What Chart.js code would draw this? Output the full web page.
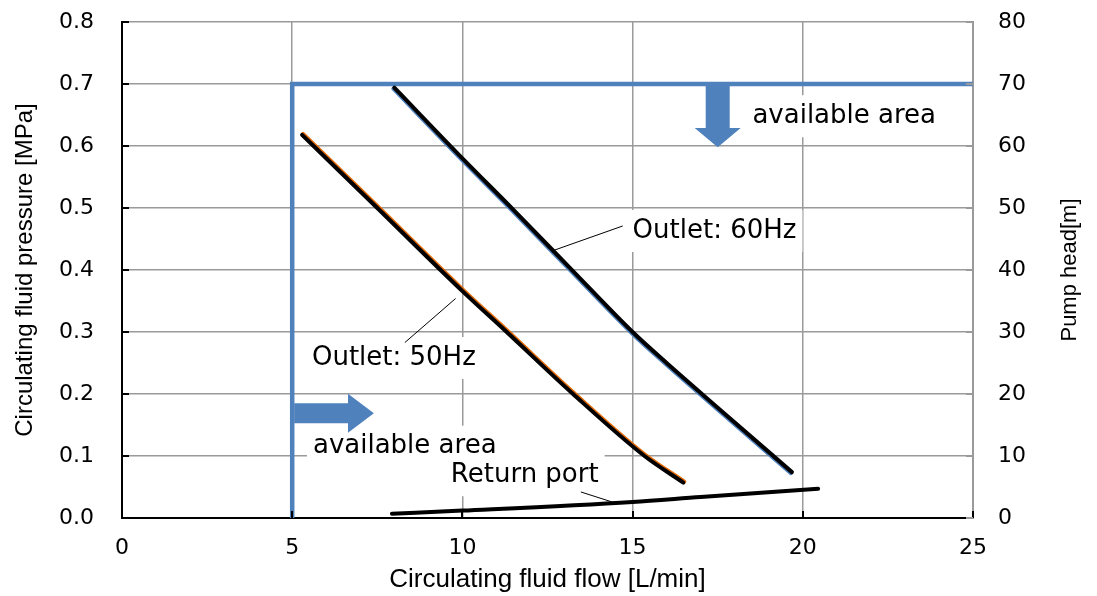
<!DOCTYPE html>
<html>
<head>
<meta charset="utf-8">
<script src="https://cdn.jsdelivr.net/npm/chart.js@4.4.1/dist/chart.umd.min.js"></script>
<style>
html,body{margin:0;padding:0;background:#fff;}
#wrap{width:1097px;height:596px;}
</style>
</head>
<body>
<div id="wrap"><canvas id="c" width="1097" height="596"></canvas></div>
<script>
// ---- data ----
const flow60 = [8.0, 10.0, 11.5, 13.2, 15.0, 16.0, 17.5, 19.68];
const pres60 = [0.694, 0.580, 0.497, 0.401, 0.300, 0.250, 0.178, 0.074];

const flow50 = [5.29, 7.5, 10.0, 11.3, 13.25, 15.35, 16.49];
const pres50 = [0.618, 0.500, 0.366, 0.300, 0.200, 0.100, 0.057];

const flowReturn = [7.93, 10.0, 15.0, 17.0, 20.45];
const presReturn = [0.007, 0.012, 0.026, 0.034, 0.047];

const boundaryFlow = [5, 5, 25];
const boundaryPres = [0, 0.7, 0.7];

const flowTicks = [0, 5, 10, 15, 20, 25];
const pressureTickValues = [0, 0.1, 0.2, 0.3, 0.4, 0.5, 0.6, 0.7, 0.8];
const pressureTickLabels = ['0.0','0.1','0.2','0.3','0.4','0.5','0.6','0.7','0.8'];
const headTickValues = [0, 10, 20, 30, 40, 50, 60, 70, 80];
const headTickLabels = ['0','10','20','30','40','50','60','70','80'];

const xTitle = 'Circulating fluid flow [L/min]';
const yTitle = 'Circulating fluid pressure [MPa]';
const y1Title = 'Pump head[m]';

// annotation texts (positions in data units)
const labels = [
  {text: 'available area', x: 18.52, y: 0.648},
  {text: 'available area', x: 5.61, y: 0.115},
  {text: 'Outlet: 60Hz', x: 15.0, y: 0.463},
  {text: 'Outlet: 50Hz', x: 5.58, y: 0.258},
  {text: 'Return port', x: 9.66, y: 0.069}
];
const leaders = [
  [14.71, 0.471, 12.70, 0.432],
  [8.31, 0.283, 9.80, 0.354],
  [13.48, 0.042, 14.39, 0.026]
];

const pts = (xs, ys) => xs.map((v, i) => ({x: v, y: ys[i]}));
const BLUE = '#4F81BD';
const GRID = '#9a9a9a';
const TXT_FONT = '26px "DejaVu Sans"';

const shadowPlugin = {
  id: 'shadow',
  beforeDatasetDraw(chart, args) {
    const ds = chart.data.datasets[args.index];
    if (ds.shadowColor) {
      const ctx = chart.ctx;
      ctx.save();
      ctx.shadowColor = ds.shadowColor;
      ctx.shadowOffsetX = ds.shadowX;
      ctx.shadowOffsetY = ds.shadowY;
      ctx.shadowBlur = 0;
    }
  },
  afterDatasetDraw(chart, args) {
    const ds = chart.data.datasets[args.index];
    if (ds.shadowColor) chart.ctx.restore();
  }
};

const annotPlugin = {
  id: 'annot',
  beforeDatasetsDraw(chart) {
    const {ctx, scales: {x, y}} = chart;
    ctx.save();
    ctx.font = TXT_FONT;
    ctx.fillStyle = '#fff';
    labels.forEach(l => {
      const w = ctx.measureText(l.text).width;
      const px = x.getPixelForValue(l.x), py = y.getPixelForValue(l.y);
      ctx.fillRect(px - 6, py - 21, w + 12, 42);
    });
    ctx.restore();
  },
  afterDatasetsDraw(chart) {
    const {ctx, scales: {x, y, y1}, chartArea: ca} = chart;
    ctx.save();
    // inward tick marks
    ctx.lineWidth = 2;
    ctx.strokeStyle = '#000';
    pressureTickValues.forEach(v => {
      const py = Math.round(y.getPixelForValue(v));
      ctx.beginPath(); ctx.moveTo(ca.left, py); ctx.lineTo(ca.left + 7, py); ctx.stroke();
    });
    flowTicks.forEach(v => {
      const px = Math.round(x.getPixelForValue(v));
      ctx.beginPath(); ctx.moveTo(px, ca.bottom); ctx.lineTo(px, ca.bottom - 7); ctx.stroke();
    });
    ctx.strokeStyle = GRID;
    headTickValues.forEach(v => {
      const py = Math.round(y1.getPixelForValue(v));
      ctx.beginPath(); ctx.moveTo(ca.right, py); ctx.lineTo(ca.right - 7, py); ctx.stroke();
    });

    // arrows
    ctx.fillStyle = BLUE;
    {
      const cx = x.getPixelForValue(17.5);
      const top = y.getPixelForValue(0.7) + 2;
      const hs = y.getPixelForValue(0.629);
      const tip = y.getPixelForValue(0.598);
      ctx.beginPath();
      ctx.moveTo(cx - 12, top); ctx.lineTo(cx + 12, top); ctx.lineTo(cx + 12, hs);
      ctx.lineTo(cx + 23, hs); ctx.lineTo(cx, tip); ctx.lineTo(cx - 23, hs);
      ctx.lineTo(cx - 12, hs); ctx.closePath(); ctx.fill();
    }
    {
      const cy = y.getPixelForValue(0.169);
      const st = x.getPixelForValue(5.0) + 2;
      const hs = x.getPixelForValue(6.64);
      const tip = x.getPixelForValue(7.40);
      ctx.beginPath();
      ctx.moveTo(st, cy - 10); ctx.lineTo(hs, cy - 10); ctx.lineTo(hs, cy - 19.5);
      ctx.lineTo(tip, cy); ctx.lineTo(hs, cy + 19.5); ctx.lineTo(hs, cy + 10);
      ctx.lineTo(st, cy + 10); ctx.closePath(); ctx.fill();
    }

    // leader lines
    ctx.strokeStyle = '#000';
    ctx.lineWidth = 1;
    leaders.forEach(l => {
      ctx.beginPath();
      ctx.moveTo(x.getPixelForValue(l[0]), y.getPixelForValue(l[1]));
      ctx.lineTo(x.getPixelForValue(l[2]), y.getPixelForValue(l[3]));
      ctx.stroke();
    });

    // labels
    ctx.fillStyle = '#000';
    ctx.font = TXT_FONT;
    ctx.textAlign = 'left';
    ctx.textBaseline = 'middle';
    labels.forEach(l => {
      ctx.fillText(l.text, x.getPixelForValue(l.x), y.getPixelForValue(l.y));
    });

    // right axis title (reads bottom-to-top)
    ctx.font = '22px "Liberation Sans", Arial, sans-serif';
    ctx.textAlign = 'center';
    ctx.translate(1070, (ca.top + ca.bottom) / 2);
    ctx.rotate(-Math.PI / 2);
    ctx.fillText(y1Title, 0, 0);
    ctx.restore();
  }
};

new Chart(document.getElementById('c'), {
  type: 'scatter',
  data: {
    datasets: [
      {
        label: 'Outlet: 60Hz', data: pts(flow60, pres60), showLine: true,
        borderColor: '#000', borderWidth: 4, pointRadius: 0,
        cubicInterpolationMode: 'monotone', order: 1,
        borderCapStyle: 'round',
        shadowColor: BLUE, shadowX: -1, shadowY: 1
      },
      {
        label: 'Outlet: 50Hz', data: pts(flow50, pres50), showLine: true,
        borderColor: '#000', borderWidth: 4, pointRadius: 0,
        cubicInterpolationMode: 'monotone', order: 2,
        borderCapStyle: 'round',
        shadowColor: '#E46C0A', shadowX: 1, shadowY: -1
      },
      {
        label: 'Return port', data: pts(flowReturn, presReturn), showLine: true,
        borderColor: '#000', borderWidth: 4, pointRadius: 0,
        cubicInterpolationMode: 'monotone', order: 3,
        borderCapStyle: 'round'
      },
      {
        label: 'available area', data: pts(boundaryFlow, boundaryPres), showLine: true,
        borderColor: BLUE, borderWidth: 4.5, pointRadius: 0, tension: 0,
        borderJoinStyle: 'miter', order: 10
      }
    ]
  },
  options: {
    responsive: false,
    animation: false,
    devicePixelRatio: 1,
    layout: {padding: {top: 22, left: 0, right: 0, bottom: 0}},
    plugins: {legend: {display: false}, tooltip: {enabled: false}},
    scales: {
      x: {
        type: 'linear', position: 'bottom', min: 0, max: 25,
        afterBuildTicks: s => { s.ticks = flowTicks.map(v => ({value: v})); },
        afterFit: s => { s.height = 78; s.paddingLeft = 0; s.paddingRight = 0; },
        grid: {color: GRID, lineWidth: 1.5, drawTicks: false},
        border: {color: '#000', width: 2},
        ticks: {
          padding: 17, color: '#000', maxRotation: 0,
          font: {family: '"DejaVu Sans"', size: 22},
          callback: v => String(v)
        },
        title: {
          display: true, text: xTitle, color: '#000',
          font: {family: '"Liberation Sans", Arial, sans-serif', size: 26},
          padding: {top: 0, bottom: 1}
        }
      },
      y: {
        type: 'linear', position: 'left', min: 0, max: 0.8,
        afterBuildTicks: s => { s.ticks = pressureTickValues.map(v => ({value: v})); },
        afterFit: s => { s.width = 122; s.paddingTop = 0; s.paddingBottom = 0; },
        grid: {color: GRID, lineWidth: 1.5, drawTicks: false},
        border: {color: '#000', width: 2},
        ticks: {
          padding: 28, color: '#000',
          font: {family: '"DejaVu Sans"', size: 22},
          callback: (v, i) => pressureTickLabels[i]
        },
        title: {
          display: true, text: yTitle, color: '#000',
          font: {family: '"Liberation Sans", Arial, sans-serif', size: 24},
          padding: {top: 11, bottom: 0}
        }
      },
      y1: {
        type: 'linear', position: 'right', min: 0, max: 80,
        afterBuildTicks: s => { s.ticks = headTickValues.map(v => ({value: v})); },
        afterFit: s => { s.width = 124; s.paddingTop = 0; s.paddingBottom = 0; },
        grid: {display: false, drawTicks: false},
        border: {color: GRID, width: 2},
        ticks: {
          padding: 25, color: '#000',
          font: {family: '"DejaVu Sans"', size: 22},
          callback: (v, i) => headTickLabels[i]
        }
      }
    }
  },
  plugins: [shadowPlugin, annotPlugin]
});
</script>
</body>
</html>
